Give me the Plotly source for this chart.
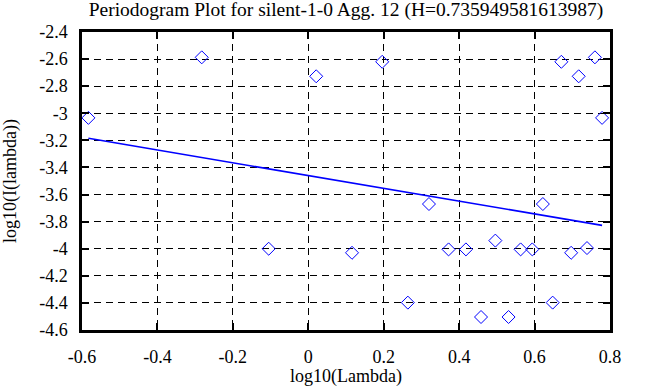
import plotly.graph_objects as go

# Periodogram points (log10 of frequency, log10 of periodogram)
log_lambda = [-0.583, -0.2825, -0.105, 0.021, 0.116, 0.196, 0.264, 0.32, 0.372,
              0.418, 0.458, 0.496, 0.531, 0.563, 0.594, 0.622, 0.648, 0.671,
              0.697, 0.717, 0.739, 0.76, 0.779]
log_I = [-3.034, -2.587, -4.0, -2.727, -4.03, -2.62, -4.398, -3.67, -4.005,
         -4.005, -4.504, -3.94, -4.504, -4.005, -4.005, -3.67, -4.398, -2.62,
         -4.03, -2.727, -3.995, -2.587, -3.034]

# Fitted line: slope = 1 - 2H
H = 0.735949581613987
slope = 1 - 2 * H
intercept = -3.46

x_ticks = [-0.6, -0.4, -0.2, 0, 0.2, 0.4, 0.6, 0.8]
x_tick_labels = ["-0.6", "-0.4", "-0.2", "0", "0.2", "0.4", "0.6", "0.8"]
y_ticks = [-2.4, -2.6, -2.8, -3, -3.2, -3.4, -3.6, -3.8, -4, -4.2, -4.4, -4.6]
y_tick_labels = ["-2.4", "-2.6", "-2.8", "-3", "-3.2", "-3.4", "-3.6", "-3.8",
                 "-4", "-4.2", "-4.4", "-4.6"]

fit_x = [min(log_lambda), max(log_lambda)]
fit_y = [intercept + slope * v for v in fit_x]

font = "Liberation Serif"

fig = go.Figure()
fig.add_trace(go.Scatter(
    x=log_lambda, y=log_I, mode="markers",
    marker=dict(symbol="diamond-open", size=10, color="#0000ff",
                line=dict(width=1, color="#0000ff")),
    showlegend=False, cliponaxis=False))
fig.add_trace(go.Scatter(
    x=fit_x, y=fit_y, mode="lines",
    line=dict(color="#0000ff", width=1.6),
    showlegend=False))

axis_common = dict(
    showline=True, linecolor="black", linewidth=2.5, mirror="allticks",
    ticks="inside", ticklen=7, tickwidth=2, tickcolor="black",
    showgrid=True, gridcolor="black", gridwidth=1, griddash="7px,5px",
    zeroline=False, automargin=False,
    tickfont=dict(family=font, size=18, color="black"),
)

fig.update_xaxes(range=[-0.6, 0.8], tickmode="array", tickvals=x_ticks,
                 ticktext=x_tick_labels, ticklabelstandoff=9,
                 title=dict(text="log10(Lambda)", standoff=1,
                            font=dict(family=font, size=18, color="black")),
                 **axis_common)
fig.update_yaxes(range=[-4.6, -2.4], tickmode="array", tickvals=y_ticks,
                 ticktext=y_tick_labels, ticklabelstandoff=8,
                 title=dict(text="log10(I(lambda))", standoff=22,
                            font=dict(family=font, size=18, color="black")),
                 **axis_common)

fig.update_layout(
    width=658, height=387,
    margin=dict(l=82, r=48, t=32, b=57, autoexpand=False),
    paper_bgcolor="white", plot_bgcolor="white",
    title=dict(text="Periodogram Plot for silent-1-0 Agg. 12 (H=0.735949581613987)",
               x=0.5, xref="paper", xanchor="center",
               y=1 - 9 / 387, yref="container", yanchor="middle",
               automargin=False,
               font=dict(family=font, size=19.5, color="black")),
)

fig.write_html("out.html",
               config={"displayModeBar": False},
               post_script="document.body.style.margin='0';document.body.style.padding='0';")
